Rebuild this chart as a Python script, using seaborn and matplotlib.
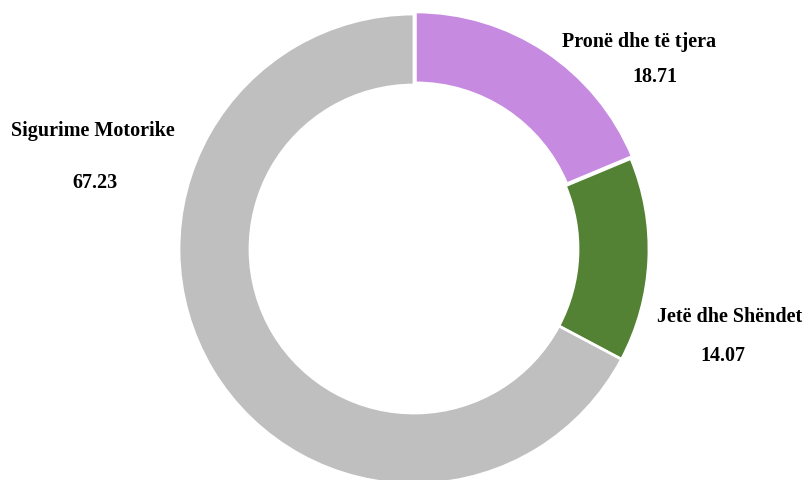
import matplotlib
matplotlib.use("Agg")
import matplotlib.pyplot as plt
import seaborn as sns

categories = ["Pronë dhe të tjera", "Jetë dhe Shëndet", "Sigurime Motorike"]
values = [18.71, 14.07, 67.23]
value_labels = ["18.71", "14.07", "67.23"]
colors = ["#C68AE0", "#548235", "#BFBFBF"]

sns.set_style("white")
plt.rcParams["font.family"] = ["Liberation Serif", "DejaVu Serif"]

fig = plt.figure(figsize=(8.12, 4.8), dpi=100)
ax = fig.add_axes([0, 0, 1, 1])
R = 235
CX, CY = 414, 249
wedges, _ = ax.pie(values, colors=colors, startangle=90, counterclock=False,
                   radius=R, explode=[2.5, 0, 0],
                   wedgeprops=dict(width=71, edgecolor="white", linewidth=2),
                   center=(0, 0), frame=False)
ax.set_xlim(-CX, 812 - CX)
ax.set_ylim(-(480 - CY), CY)
ax.set_aspect("equal")
ax.axis("off")

# label positions in pixel offsets from the centre (x right, y up)
label_pos = [(225, 207), (316, -68), (-321, 118)]
value_pos = [(241, 172), (309, -107), (-319, 66)]
for cat, val, lp, vp in zip(categories, value_labels, label_pos, value_pos):
    ax.text(lp[0], lp[1], cat, ha="center", va="center", fontsize=14.5, fontweight="bold", color="black")
    ax.text(vp[0], vp[1], val, ha="center", va="center", fontsize=14.5, fontweight="bold", color="black")

fig.savefig("out.png", dpi=100)
